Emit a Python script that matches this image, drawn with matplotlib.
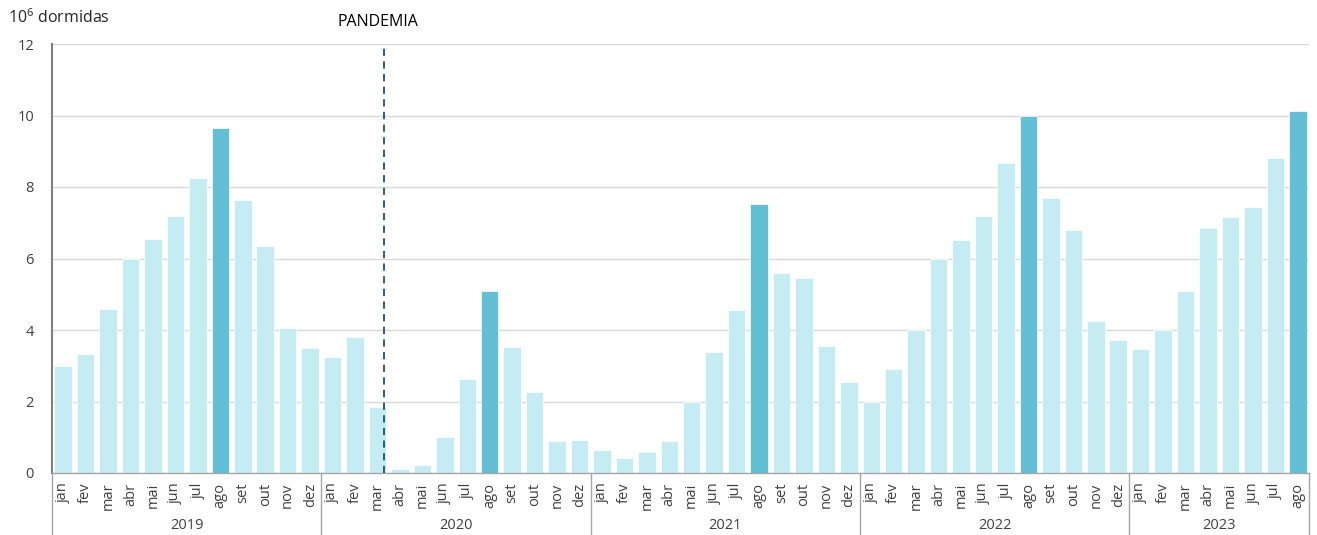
import numpy as np
import matplotlib.pyplot as plt
from matplotlib.transforms import blended_transform_factory

plt.rcParams['font.family'] = ['Open Sans', 'DejaVu Sans']
plt.rcParams['mathtext.default'] = 'regular'

months = ['jan', 'fev', 'mar', 'abr', 'mai', 'jun',
          'jul', 'ago', 'set', 'out', 'nov', 'dez']
years = ['2019', '2020', '2021', '2022', '2023']

# dormidas (milhoes) por mes
v2019 = [3.00, 3.33, 4.59, 5.99, 6.55, 7.19, 8.25, 9.65, 7.64, 6.35, 4.06, 3.50]
v2020 = [3.24, 3.80, 1.85, 0.11, 0.22, 1.00, 2.63, 5.09, 3.52, 2.27, 0.90, 0.92]
v2021 = [0.64, 0.42, 0.59, 0.90, 2.00, 3.38, 4.56, 7.52, 5.59, 5.45, 3.55, 2.55]
v2022 = [1.99, 2.91, 4.00, 5.99, 6.52, 7.19, 8.67, 9.99, 7.69, 6.80, 4.25, 3.72]
v2023 = [3.47, 4.00, 5.09, 6.85, 7.16, 7.44, 8.81, 10.13]

series = [v2019, v2020, v2021, v2022, v2023]
values = np.concatenate(series)
labels = [m for s in series for m in months[:len(s)]]
x = np.arange(len(values))

light = '#c6ecf3'
dark = '#62bfd4'
colors = [dark if m == 'ago' else light for m in labels]

fig = plt.figure(figsize=(13.17, 5.35), dpi=100)
ax = fig.add_axes([52 / 1317, 1 - 473 / 535, 1257 / 1317, 429 / 535])

ax.bar(x, values, width=0.78, color=colors, edgecolor='white', linewidth=0.5, zorder=2)

ax.set_xlim(-0.5, len(values) - 0.5)
ax.set_ylim(0, 12)
ax.set_yticks(range(0, 13, 2))
ax.yaxis.grid(True, color='#d9d9d9', lw=1, zorder=0)
ax.tick_params(axis='y', length=0, labelsize=10.5, labelcolor='#404040', pad=13)

ax.set_xticks(x)
ax.set_xticklabels(labels, rotation=90, fontsize=10.5, color='#404040')
ax.tick_params(axis='x', length=0, pad=7)

for s in ['top', 'right']:
    ax.spines[s].set_visible(False)
ax.spines['left'].set_color('#7f7f7f')
ax.spines['left'].set_linewidth(1.5)
ax.spines['bottom'].set_color('#a6a6a6')
ax.spines['bottom'].set_linewidth(1)

# separadores e anos
trans = blended_transform_factory(ax.transData, ax.transAxes)
start = 0
bounds = [-0.5]
for yr, s in zip(years, series):
    end = start + len(s)
    bounds.append(end - 0.5)
    ax.text((start + end - 1) / 2, -0.123, yr, transform=trans,
            ha='center', va='center', fontsize=10.5, color='#404040')
    start = end
for b in bounds:
    ax.plot([b, b], [0, -0.15], transform=trans, color='#a6a6a6',
            lw=1, clip_on=False)

# pandemia
ax.axvline(14.29, color='#1f4e79', lw=1.3, ls=(0, (4, 3)), zorder=3)
ax.text(14.0, 12.38, 'PANDEMIA', ha='center', va='bottom', fontsize=11.5,
        color='black', fontweight='medium')

fig.text(8 / 1317, 1 - 18 / 535, '10$^{6}$ dormidas', ha='left',
         va='center', fontsize=11.5, color='#262626')

fig.savefig('out.png', dpi=100)
